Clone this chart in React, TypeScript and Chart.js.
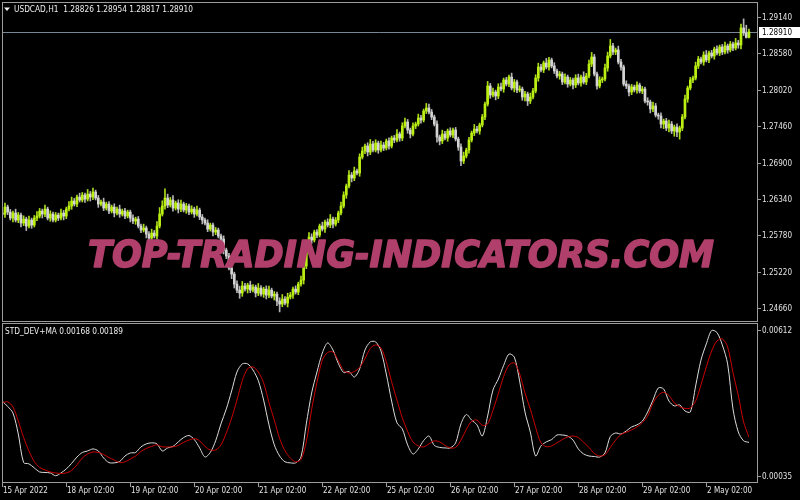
import React, { useEffect, useRef } from 'react';
import { Chart, registerables } from 'chart.js';

Chart.register(...registerables);

// ---------------- DATA ----------------
const SYMBOL_TITLE = 'USDCAD,H1  1.28826 1.28954 1.28817 1.28910';
const IND_TITLE = 'STD_DEV+MA 0.00168 0.00189';
const WATERMARK = 'TOP-TRADING-INDICATORS.COM';
const LAST_PRICE = 1.2891;

const timeTickBars = [0, 24, 48, 72, 96, 120, 144, 168, 192, 216, 240, 264];
const timeLabels = [
  '15 Apr 2022', '18 Apr 02:00', '19 Apr 02:00', '20 Apr 02:00', '21 Apr 02:00', '22 Apr 02:00',
  '25 Apr 02:00', '26 Apr 02:00', '27 Apr 02:00', '28 Apr 02:00', '29 Apr 02:00', '2 May 02:00',
];
const priceTicks = [1.2914, 1.2858, 1.2802, 1.2746, 1.269, 1.2634, 1.2578, 1.2522, 1.2466];
const indicatorTicks = [0.00612, 0.00035];

const FIRST_OPEN = 1.26122;
const PIP = 0.0001;

// hourly closes, 15 Apr 02:00 .. 2 May 18:00
const closes = [
  1.26106, 1.26214, 1.26137, 1.26045, 1.26122, 1.26014, 1.26091, 1.25968, 1.26029, 1.25922,
  1.26014, 1.25937, 1.26045, 1.26076, 1.26153, 1.26106, 1.26183, 1.26045, 1.26106, 1.26014,
  1.26091, 1.26045, 1.26122, 1.26076, 1.26183, 1.26230, 1.26307, 1.26260, 1.26368, 1.26322,
  1.26399, 1.26337, 1.26414, 1.26368, 1.26445, 1.26353, 1.26260, 1.26291, 1.26199, 1.26260,
  1.26153, 1.26214, 1.26122, 1.26183, 1.26106, 1.26153, 1.26076, 1.26137, 1.26045, 1.25999,
  1.26029, 1.25922, 1.25860, 1.25891, 1.25798, 1.25737, 1.25814, 1.25768, 1.25922, 1.26106,
  1.26230, 1.26353, 1.26245, 1.26322, 1.26199, 1.26276, 1.26183, 1.26260, 1.26168, 1.26230,
  1.26137, 1.26183, 1.26106, 1.26168, 1.26060, 1.26014, 1.25968, 1.25875, 1.25937, 1.25829,
  1.25860, 1.25768, 1.25721, 1.25552, 1.25460, 1.25275, 1.25182, 1.25028, 1.24936, 1.24890,
  1.24998, 1.24951, 1.25013, 1.24936, 1.24982, 1.24890, 1.24967, 1.24874, 1.24951, 1.24859,
  1.24936, 1.24844, 1.24874, 1.24767, 1.24720, 1.24797, 1.24736, 1.24828, 1.24859, 1.24951,
  1.24905, 1.25028, 1.25090, 1.25306, 1.25521, 1.25752, 1.25706, 1.25829, 1.25783, 1.25922,
  1.25875, 1.25983, 1.25937, 1.26029, 1.25952, 1.26014, 1.26122, 1.26230, 1.26399, 1.26538,
  1.26707, 1.26661, 1.26769, 1.26738, 1.26984, 1.27077, 1.27154, 1.27061, 1.27184, 1.27092,
  1.27200, 1.27092, 1.27169, 1.27123, 1.27231, 1.27154, 1.27277, 1.27246, 1.27338, 1.27277,
  1.27462, 1.27523, 1.27400, 1.27338, 1.27462, 1.27492, 1.27585, 1.27554, 1.27693, 1.27739,
  1.27677, 1.27600, 1.27492, 1.27292, 1.27231, 1.27338, 1.27277, 1.27385, 1.27323, 1.27400,
  1.27261, 1.27138, 1.26923, 1.27000, 1.27092, 1.27246, 1.27354, 1.27415, 1.27385, 1.27477,
  1.27600, 1.27800, 1.28078, 1.27939, 1.27985, 1.27924, 1.28062, 1.28031, 1.28170, 1.28108,
  1.28216, 1.28047, 1.28139, 1.28016, 1.28031, 1.27908, 1.27954, 1.27847, 1.27908, 1.28001,
  1.28201, 1.28370, 1.28324, 1.28432, 1.28370, 1.28478, 1.28386, 1.28309, 1.28232, 1.28262,
  1.28139, 1.28216, 1.28108, 1.28170, 1.28093, 1.28201, 1.28124, 1.28216, 1.28139, 1.28232,
  1.28416, 1.28524, 1.28262, 1.28078, 1.28170, 1.28185, 1.28355, 1.28540, 1.28694, 1.28601,
  1.28632, 1.28447, 1.28370, 1.28108, 1.28078, 1.27985, 1.28062, 1.28016, 1.28093, 1.28001,
  1.28031, 1.27847, 1.27831, 1.27723, 1.27770, 1.27631, 1.27616, 1.27492, 1.27539, 1.27431,
  1.27492, 1.27385, 1.27446, 1.27369, 1.27431, 1.27600, 1.27877, 1.28047, 1.28170, 1.28201,
  1.28386, 1.28493, 1.28447, 1.28555, 1.28478, 1.28586, 1.28540, 1.28647, 1.28586, 1.28678,
  1.28601, 1.28694, 1.28632, 1.28724, 1.28663, 1.28740, 1.28709, 1.28971, 1.28894, 1.28826,
  1.28910,
];

// upper / lower shadow length of each candle, in pips
const wickUp = [
  5, 6, 3, 4, 3, 6, 4, 3, 5, 3, 6, 3, 4, 7, 4, 3, 6, 3, 5, 3,
  4, 3, 6, 4, 3, 7, 6, 4, 3, 6, 4, 3, 7, 4, 6, 3, 4, 3, 6, 3,
  4, 3, 5, 3, 6, 3, 4, 3, 3, 5, 3, 4, 3, 6, 3, 4, 6, 4, 7, 10,
  8, 14, 6, 4, 7, 3, 5, 6, 3, 4, 3, 5, 3, 6, 3, 4, 3, 5, 3, 3,
  4, 3, 3, 5, 3, 4, 3, 3, 5, 6, 7, 4, 3, 6, 4, 3, 7, 4, 3, 5,
  6, 3, 4, 3, 5, 7, 4, 6, 4, 3, 5, 3, 6, 4, 3, 7, 5, 3, 4, 3,
  6, 3, 5, 7, 3, 4, 3, 6, 5, 3, 7, 4, 6, 3, 5, 6, 3, 5, 7, 4,
  5, 3, 6, 4, 3, 5, 3, 4, 7, 3, 5, 6, 4, 3, 5, 3, 6, 4, 3, 7,
  6, 4, 3, 5, 3, 6, 4, 3, 5, 3, 4, 3, 5, 6, 3, 4, 3, 7, 4, 3,
  4, 3, 7, 4, 6, 3, 5, 6, 3, 4, 3, 6, 4, 3, 5, 3, 4, 3, 6, 4,
  5, 6, 4, 3, 7, 4, 3, 5, 3, 4, 3, 5, 3, 4, 3, 5, 6, 3, 8, 4,
  6, 7, 4, 3, 5, 3, 6, 6, 10, 4, 3, 6, 4, 3, 5, 3, 4, 3, 5, 3,
  4, 3, 5, 3, 6, 4, 3, 5, 3, 4, 6, 4, 3, 5, 3, 4, 6, 3, 4, 3,
  6, 4, 3, 5, 7, 3, 4, 3, 5, 3, 4, 6, 3, 4, 3, 7, 4, 6, 14, 12,
  4.4,
];
const wickDown = [
  3, 5, 4, 3, 6, 3, 4, 6, 4, 7, 3, 5, 3, 4, 3, 6, 4, 3, 5, 3,
  3, 4, 3, 6, 4, 3, 5, 3, 4, 3, 3, 5, 3, 6, 4, 3, 5, 3, 4, 3,
  4, 3, 6, 3, 5, 3, 4, 3, 6, 4, 5, 3, 4, 3, 6, 7, 4, 3, 5, 3,
  3, 5, 4, 3, 5, 3, 6, 4, 3, 5, 4, 3, 5, 3, 4, 6, 3, 4, 3, 6,
  4, 3, 5, 6, 4, 3, 7, 6, 4, 8, 5, 3, 6, 4, 3, 6, 4, 3, 5, 6,
  4, 3, 6, 7, 12, 4, 3, 6, 3, 5, 3, 4, 3, 6, 4, 3, 5, 3, 4, 3,
  3, 5, 3, 4, 6, 3, 4, 3, 3, 5, 3, 6, 4, 3, 5, 3, 4, 6, 4, 3,
  3, 5, 3, 4, 3, 5, 3, 4, 3, 5, 4, 3, 5, 6, 3, 4, 3, 5, 3, 4,
  3, 4, 3, 8, 6, 4, 3, 5, 3, 4, 3, 5, 7, 4, 3, 5, 3, 4, 3, 5,
  3, 4, 3, 5, 3, 6, 4, 3, 5, 3, 4, 3, 6, 4, 3, 5, 6, 7, 4, 3,
  3, 5, 3, 4, 3, 5, 3, 4, 3, 5, 4, 3, 5, 3, 6, 4, 3, 5, 3, 4,
  3, 4, 3, 5, 3, 4, 3, 5, 3, 4, 4, 3, 5, 3, 4, 6, 4, 3, 5, 3,
  4, 3, 5, 6, 4, 3, 5, 6, 7, 4, 6, 4, 8, 7, 11, 4, 3, 5, 3, 4,
  3, 4, 3, 5, 3, 4, 3, 5, 3, 4, 4, 3, 5, 3, 4, 3, 5, 6, 4, 1,
  0.9,
];

// indicator, one value every IND_STEP bars
const IND_STEP = 2;
const stdDev = [
  0.00331, 0.00310, 0.00284, 0.00201, 0.00088, 0.00083, 0.00067, 0.00051, 0.00049, 0.00047,
  0.00036, 0.00047, 0.00063, 0.00085, 0.00110, 0.00128, 0.00134, 0.00142, 0.00134, 0.00106,
  0.00088, 0.00087, 0.00092, 0.00114, 0.00126, 0.00128, 0.00150, 0.00162, 0.00166, 0.00162,
  0.00134, 0.00146, 0.00152, 0.00170, 0.00187, 0.00195, 0.00179, 0.00146, 0.00110, 0.00128,
  0.00174, 0.00241, 0.00300, 0.00371, 0.00446, 0.00478, 0.00478, 0.00454, 0.00412, 0.00335,
  0.00237, 0.00158, 0.00114, 0.00091, 0.00087, 0.00087, 0.00110, 0.00241, 0.00363, 0.00446,
  0.00521, 0.00561, 0.00533, 0.00480, 0.00444, 0.00448, 0.00426, 0.00458, 0.00533, 0.00565,
  0.00565, 0.00529, 0.00438, 0.00331, 0.00245, 0.00221, 0.00158, 0.00122, 0.00142, 0.00175,
  0.00193, 0.00156, 0.00148, 0.00146, 0.00146, 0.00166, 0.00241, 0.00278, 0.00256, 0.00237,
  0.00193, 0.00272, 0.00375, 0.00418, 0.00472, 0.00517, 0.00505, 0.00410, 0.00288, 0.00209,
  0.00114, 0.00154, 0.00170, 0.00179, 0.00197, 0.00197, 0.00193, 0.00177, 0.00142, 0.00122,
  0.00114, 0.00112, 0.00110, 0.00126, 0.00191, 0.00205, 0.00201, 0.00213, 0.00229, 0.00237,
  0.00252, 0.00288, 0.00335, 0.00383, 0.00379, 0.00331, 0.00312, 0.00316, 0.00292, 0.00288,
  0.00391, 0.00493, 0.00557, 0.00610, 0.00602, 0.00553, 0.00478, 0.00300, 0.00209, 0.00174,
  0.00168,
];
const stdDevMA = [
  0.00324, 0.00328, 0.00308, 0.00252, 0.00187, 0.00134, 0.00092, 0.00069, 0.00059, 0.00051,
  0.00047, 0.00045, 0.00047, 0.00057, 0.00079, 0.00106, 0.00122, 0.00130, 0.00128, 0.00120,
  0.00108, 0.00098, 0.00088, 0.00091, 0.00102, 0.00114, 0.00132, 0.00144, 0.00152, 0.00158,
  0.00150, 0.00150, 0.00150, 0.00156, 0.00168, 0.00177, 0.00183, 0.00174, 0.00152, 0.00138,
  0.00138, 0.00158, 0.00205, 0.00264, 0.00335, 0.00412, 0.00459, 0.00466, 0.00446, 0.00403,
  0.00325, 0.00256, 0.00183, 0.00135, 0.00106, 0.00091, 0.00100, 0.00170, 0.00298, 0.00405,
  0.00493, 0.00523, 0.00525, 0.00491, 0.00452, 0.00442, 0.00448, 0.00464, 0.00499, 0.00539,
  0.00553, 0.00541, 0.00486, 0.00407, 0.00335, 0.00265, 0.00211, 0.00170, 0.00154, 0.00150,
  0.00162, 0.00174, 0.00170, 0.00156, 0.00146, 0.00148, 0.00177, 0.00219, 0.00251, 0.00256,
  0.00235, 0.00241, 0.00295, 0.00360, 0.00428, 0.00474, 0.00482, 0.00439, 0.00363, 0.00300,
  0.00227, 0.00166, 0.00151, 0.00154, 0.00166, 0.00179, 0.00189, 0.00193, 0.00187, 0.00168,
  0.00148, 0.00124, 0.00114, 0.00119, 0.00148, 0.00177, 0.00199, 0.00208, 0.00217, 0.00229,
  0.00246, 0.00272, 0.00323, 0.00354, 0.00366, 0.00353, 0.00324, 0.00309, 0.00302, 0.00304,
  0.00331, 0.00395, 0.00466, 0.00529, 0.00569, 0.00577, 0.00545, 0.00444, 0.00353, 0.00248,
  0.00189,
];

// ---------------- STYLE ----------------
const BULL = '#bcf012';
const BULL_WICK = '#aadc18';
const BEAR = '#d4d4d4';
const BEAR_WICK = '#b4b4b4';
const FRAME = '#9c9c9c';
const TEXT = '#e2e2e2';
const AX_FONT = '9px "DejaVu Sans"';

// scale ranges (pane layout inside the common chart area 2..482)
const X_MIN = 0.2625;
const X_MAX = 283.01;
const P_MIN = 1.219813;
const P_MAX = 1.293709;
const I_MIN = 0.000113;
const I_MAX = 0.0190826;

function drawScaled(
  ctx: CanvasRenderingContext2D, text: string, x: number, y: number, font: string,
  color: string, sx: number, baseline: CanvasTextBaseline = 'middle', strokeW = 0
) {
  ctx.save();
  ctx.font = font;
  ctx.fillStyle = color;
  ctx.textBaseline = baseline;
  ctx.textAlign = 'left';
  ctx.translate(x, y);
  ctx.scale(sx, 1);
  ctx.fillText(text, 0, 0);
  if (strokeW > 0) {
    ctx.strokeStyle = color;
    ctx.lineWidth = strokeW;
    ctx.lineJoin = 'round';
    ctx.strokeText(text, 0, 0);
  }
  ctx.restore();
}

function hLine(ctx: CanvasRenderingContext2D, x1: number, x2: number, y: number) {
  ctx.beginPath();
  ctx.moveTo(x1, y);
  ctx.lineTo(x2, y);
  ctx.stroke();
}
function vLine(ctx: CanvasRenderingContext2D, x: number, y1: number, y2: number) {
  ctx.beginPath();
  ctx.moveTo(x, y1);
  ctx.lineTo(x, y2);
  ctx.stroke();
}

const mt4Plugin = {
  id: 'mt4',
  beforeDraw(chart: any) {
    const ctx = chart.ctx as CanvasRenderingContext2D;
    ctx.save();
    ctx.fillStyle = '#000';
    ctx.fillRect(0, 0, chart.width, chart.height);
    ctx.restore();
  },
  beforeDatasetsDraw(chart: any) {
    const ctx = chart.ctx as CanvasRenderingContext2D;
    const yP = chart.scales.yP;
    const y = Math.round(yP.getPixelForValue(LAST_PRICE)) + 0.5;
    ctx.save();
    ctx.strokeStyle = '#7a8796';
    ctx.lineWidth = 1;
    hLine(ctx, 2, 757.5, y);
    ctx.restore();
  },
  afterDatasetsDraw(chart: any) {
    const ctx = chart.ctx as CanvasRenderingContext2D;
    ctx.save();
    const font = 'italic bold 38px "DejaVu Sans"';
    ctx.font = font;
    const w = ctx.measureText(WATERMARK).width;
    drawScaled(ctx, WATERMARK, 88, 267, font, '#b0406b', 626 / w, 'alphabetic', 1.6);
    ctx.restore();
  },
  afterDraw(chart: any) {
    const ctx = chart.ctx as CanvasRenderingContext2D;
    const xs = chart.scales.x;
    const yP = chart.scales.yP;
    const yI = chart.scales.yI;
    ctx.save();
    ctx.lineWidth = 1;
    ctx.strokeStyle = FRAME;
    // upper pane frame
    hLine(ctx, 2, 758, 2.5);
    hLine(ctx, 2, 758, 321.5);
    vLine(ctx, 2.5, 2, 322);
    vLine(ctx, 757.5, 2, 322);
    // lower pane frame
    hLine(ctx, 2, 758, 323.5);
    hLine(ctx, 2, 758, 482.5);
    vLine(ctx, 2.5, 323, 483);
    vLine(ctx, 757.5, 323, 483);

    ctx.font = AX_FONT;
    const sx = 30 / ctx.measureText('1.29140').width;

    // price axis
    priceTicks.forEach((p) => {
      const y = Math.round(yP.getPixelForValue(p)) + 0.5;
      hLine(ctx, 758, 761, y);
      drawScaled(ctx, p.toFixed(5), 762, y, AX_FONT, TEXT, sx);
    });
    // indicator axis
    indicatorTicks.forEach((v) => {
      const y = Math.round(yI.getPixelForValue(v)) + 0.5;
      hLine(ctx, 758, 761, y);
      drawScaled(ctx, v.toFixed(5), 762, y, AX_FONT, TEXT, sx);
    });
    // time axis
    timeTickBars.forEach((b, i) => {
      const x = Math.round(xs.getPixelForValue(b)) + 0.5;
      vLine(ctx, x, 483, 487);
      drawScaled(ctx, timeLabels[i], x + 0.5, 491, AX_FONT, TEXT, sx);
    });

    // last price box
    const yl = Math.round(yP.getPixelForValue(LAST_PRICE));
    ctx.fillStyle = '#ffffff';
    ctx.fillRect(759, yl - 5, 41, 11);
    drawScaled(ctx, LAST_PRICE.toFixed(5), 762, yl + 0.5, AX_FONT, '#000000', sx);

    // titles
    ctx.fillStyle = '#f0f0f0';
    ctx.beginPath();
    ctx.moveTo(4, 7.5);
    ctx.lineTo(10, 7.5);
    ctx.lineTo(7, 11);
    ctx.closePath();
    ctx.fill();
    const tFont = '9px "DejaVu Sans"';
    ctx.font = tFont;
    const tw = ctx.measureText(SYMBOL_TITLE).width;
    drawScaled(ctx, SYMBOL_TITLE, 14, 9.5, tFont, '#eeeeee', 179 / tw);
    const iw = ctx.measureText(IND_TITLE).width;
    drawScaled(ctx, IND_TITLE, 5, 331.5, tFont, '#eeeeee', 118 / iw);
    ctx.restore();
  },
};

export default function App() {
  const ref = useRef<HTMLCanvasElement | null>(null);

  useEffect(() => {
    document.body.style.margin = '0';
    document.body.style.background = '#000';
    const canvas = ref.current;
    if (!canvas) return;

    const opens = closes.map((c, i) => (i === 0 ? FIRST_OPEN : closes[i - 1]));
    const isUp = closes.map((c, i) => c >= opens[i]);
    const bodies = closes.map((c, i) => ({ x: i, y: [opens[i], c] }));
    const wicks = closes.map((c, i) => ({
      x: i,
      y: [Math.min(opens[i], c) - wickDown[i] * PIP, Math.max(opens[i], c) + wickUp[i] * PIP],
    }));
    const devPts = stdDev.map((v, k) => ({ x: k * IND_STEP, y: v }));
    const maPts = stdDevMA.map((v, k) => ({ x: k * IND_STEP, y: v }));

    const chart = new Chart(canvas, {
      type: 'bar',
      data: {
        datasets: [
          {
            type: 'line',
            label: 'MA',
            data: maPts as any,
            xAxisID: 'x',
            yAxisID: 'yI',
            borderColor: '#cc0000',
            borderWidth: 1,
            pointRadius: 0,
            tension: 0.3,
            fill: false,
            order: 1,
          } as any,
          {
            type: 'line',
            label: 'STD_DEV',
            data: devPts as any,
            xAxisID: 'x',
            yAxisID: 'yI',
            borderColor: '#dcdcdc',
            borderWidth: 1,
            pointRadius: 0,
            tension: 0.3,
            fill: false,
            order: 2,
          } as any,
          {
            type: 'bar',
            label: 'bodies',
            data: bodies as any,
            xAxisID: 'x',
            yAxisID: 'yP',
            backgroundColor: isUp.map((u) => (u ? BULL : BEAR)),
            borderWidth: 0,
            barThickness: 2,
            minBarLength: 1,
            grouped: false,
            order: 3,
          } as any,
          {
            type: 'bar',
            label: 'wicks',
            data: wicks as any,
            xAxisID: 'x',
            yAxisID: 'yP',
            backgroundColor: isUp.map((u) => (u ? BULL_WICK : BEAR_WICK)),
            borderWidth: 0,
            barThickness: 1,
            grouped: false,
            order: 4,
          } as any,
        ],
      },
      options: {
        animation: false,
        responsive: false,
        maintainAspectRatio: false,
        devicePixelRatio: 1,
        events: [],
        layout: { padding: { left: 3, right: 43, top: 2, bottom: 18 } },
        plugins: { legend: { display: false }, tooltip: { enabled: false } },
        scales: {
          x: { type: 'linear', display: false, min: X_MIN, max: X_MAX, offset: false, grid: { display: false } },
          yP: { type: 'linear', display: false, min: P_MIN, max: P_MAX, position: 'right' },
          yI: { type: 'linear', display: false, min: I_MIN, max: I_MAX, position: 'right' },
        },
      } as any,
      plugins: [mt4Plugin],
    });

    return () => chart.destroy();
  }, []);

  return (
    <div style={{ width: 800, height: 500, background: '#000' }}>
      <canvas ref={ref} width={800} height={500} style={{ display: 'block' }} />
    </div>
  );
}
